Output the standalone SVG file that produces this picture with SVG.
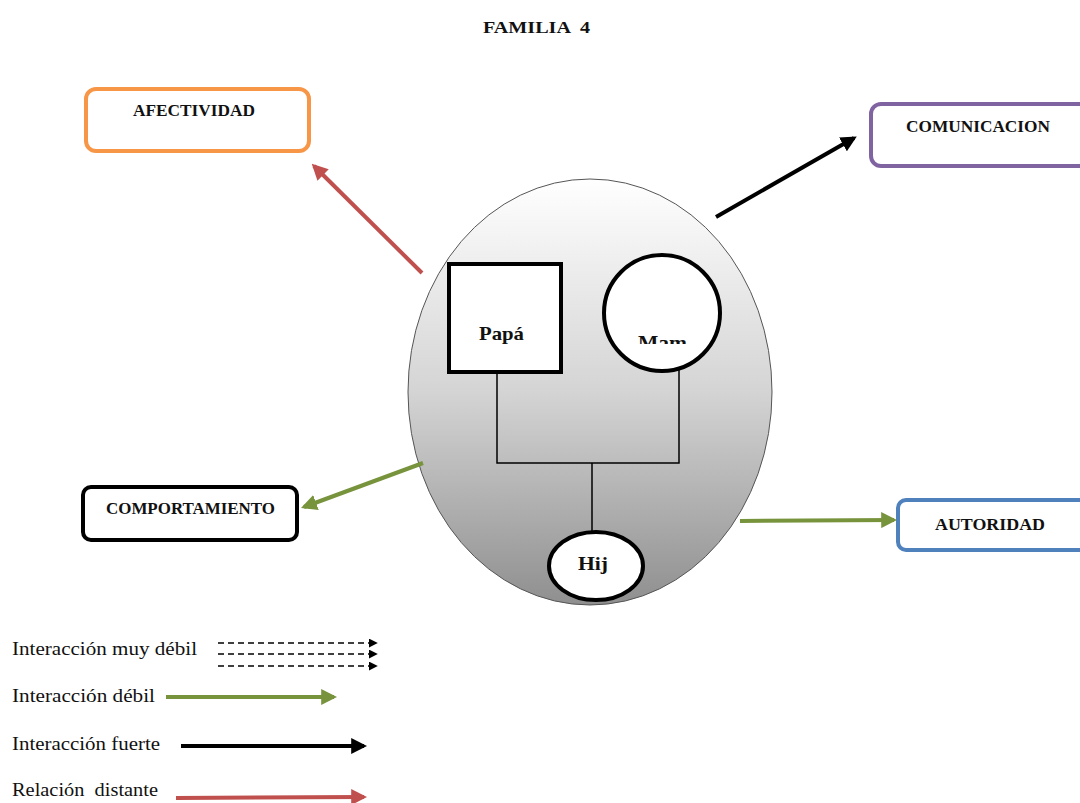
<svg xmlns="http://www.w3.org/2000/svg" width="1080" height="803" viewBox="0 0 1080 803">
<style>
.t{font-family:"Liberation Serif","DejaVu Serif",serif;font-weight:bold;font-size:16px;fill:#111;}
.n{font-family:"Liberation Serif","DejaVu Serif",serif;font-weight:bold;font-size:19px;fill:#111;}
.l{font-family:"Liberation Serif","DejaVu Serif",serif;font-size:18px;fill:#111;}
.box{fill:#fff;stroke-width:4;}
.ln{fill:none;stroke:#000;stroke-width:1.5;}
.red{stroke:#C0504D;stroke-width:4;fill:none;}
.blk{stroke:#000;stroke-width:4;fill:none;}
.grn{stroke:#77933C;stroke-width:4;fill:none;}
.dsh{stroke:#000;stroke-width:1.5;fill:none;stroke-dasharray:6,4;}
</style>
<defs>
<linearGradient id="g" x1="0" y1="0" x2="0" y2="1">
<stop offset="0" stop-color="#ffffff"/>
<stop offset="0.5" stop-color="#d4d4d4"/>
<stop offset="1" stop-color="#8f8f8f"/>
</linearGradient>
<marker id="mr" viewBox="0 0 10 10" refX="8" refY="5" markerWidth="4" markerHeight="4" orient="auto" markerUnits="strokeWidth"><path d="M0,0L10,5L0,10z" fill="#C0504D"/></marker>
<marker id="mb" viewBox="0 0 10 10" refX="8" refY="5" markerWidth="4" markerHeight="4" orient="auto" markerUnits="strokeWidth"><path d="M0,0L10,5L0,10z" fill="#000"/></marker>
<marker id="mg" viewBox="0 0 10 10" refX="8" refY="5" markerWidth="4" markerHeight="4" orient="auto" markerUnits="strokeWidth"><path d="M0,0L10,5L0,10z" fill="#77933C"/></marker>
<marker id="md" viewBox="0 0 10 10" refX="8" refY="5" markerWidth="6" markerHeight="6" orient="auto" markerUnits="strokeWidth"><path d="M0,0L10,5L0,10z" fill="#000"/></marker>
<clipPath id="mc"><rect x="600" y="280" width="130" height="64"/></clipPath>
</defs>
<rect width="1080" height="803" fill="#fff"/>
<text class="t" x="483" y="33" font-size="18" textLength="107" lengthAdjust="spacingAndGlyphs" xml:space="preserve">FAMILIA  4</text>

<g id="familia">
<ellipse cx="590" cy="392" rx="182" ry="213" fill="url(#g)" stroke="#555" stroke-width="1"/>
</g>

<g id="connectors">
<path class="ln" d="M497,372V463H679V370"/>
<path class="ln" d="M592,463V533"/>
<line class="red" x1="422" y1="273" x2="314" y2="166" marker-end="url(#mr)"/>
<line class="blk" x1="716" y1="217" x2="854" y2="138" marker-end="url(#mb)"/>
<line class="grn" x1="423" y1="463" x2="304" y2="507" marker-end="url(#mg)"/>
<line class="grn" x1="740" y1="521" x2="894" y2="520" marker-end="url(#mg)"/>
</g>

<g id="papa">
<rect x="449" y="264" width="112" height="108" fill="#fff" stroke="#000" stroke-width="4"/>
<text class="n" x="479" y="340" textLength="45" lengthAdjust="spacingAndGlyphs">Papá</text>
</g>
<g id="mama">
<circle cx="662" cy="313" r="58" fill="#fff" stroke="#000" stroke-width="4"/>
<text class="n" x="638" y="349" textLength="49" lengthAdjust="spacingAndGlyphs" clip-path="url(#mc)">Mam</text>
</g>
<g id="hijo">
<ellipse cx="596" cy="566" rx="47" ry="34" fill="#fff" stroke="#000" stroke-width="4"/>
<text class="n" x="578" y="570" textLength="30" lengthAdjust="spacingAndGlyphs">Hij</text>
</g>

<g id="afectividad">
<rect class="box" x="86" y="89" width="223" height="62" rx="10" stroke="#F79646"/>
<text class="t" x="133" y="116" textLength="122" lengthAdjust="spacingAndGlyphs">AFECTIVIDAD</text>
</g>
<g id="comunicacion">
<rect class="box" x="871" y="104" width="230" height="62" rx="10" stroke="#8064A2"/>
<text class="t" x="906" y="132" textLength="144" lengthAdjust="spacingAndGlyphs">COMUNICACION</text>
</g>
<g id="comportamiento">
<rect class="box" x="83" y="487" width="214" height="53" rx="8" stroke="#000"/>
<text class="t" x="106" y="514" textLength="169" lengthAdjust="spacingAndGlyphs">COMPORTAMIENTO</text>
</g>
<g id="autoridad">
<rect class="box" x="898" y="500" width="200" height="50" rx="8" stroke="#4F81BD"/>
<text class="t" x="935" y="530" textLength="110" lengthAdjust="spacingAndGlyphs">AUTORIDAD</text>
</g>

<g id="legend">
<text class="l" x="12" y="655" textLength="185" lengthAdjust="spacingAndGlyphs">Interacción muy débil</text>
<line class="dsh" x1="218" y1="643" x2="376" y2="643" marker-end="url(#md)"/>
<line class="dsh" x1="218" y1="654" x2="376" y2="654" marker-end="url(#md)"/>
<line class="dsh" x1="218" y1="666" x2="376" y2="666" marker-end="url(#md)"/>
<text class="l" x="12" y="702" textLength="143" lengthAdjust="spacingAndGlyphs">Interacción débil</text>
<line class="grn" x1="166" y1="697" x2="334" y2="697" marker-end="url(#mg)"/>
<text class="l" x="12" y="750" textLength="148" lengthAdjust="spacingAndGlyphs">Interacción fuerte</text>
<line class="blk" x1="181" y1="746" x2="364" y2="746" marker-end="url(#mb)"/>
<text class="l" x="12" y="796" textLength="146" lengthAdjust="spacingAndGlyphs" xml:space="preserve">Relación  distante</text>
<line class="red" x1="176" y1="798" x2="364" y2="797" marker-end="url(#mr)"/>
</g>
</svg>
